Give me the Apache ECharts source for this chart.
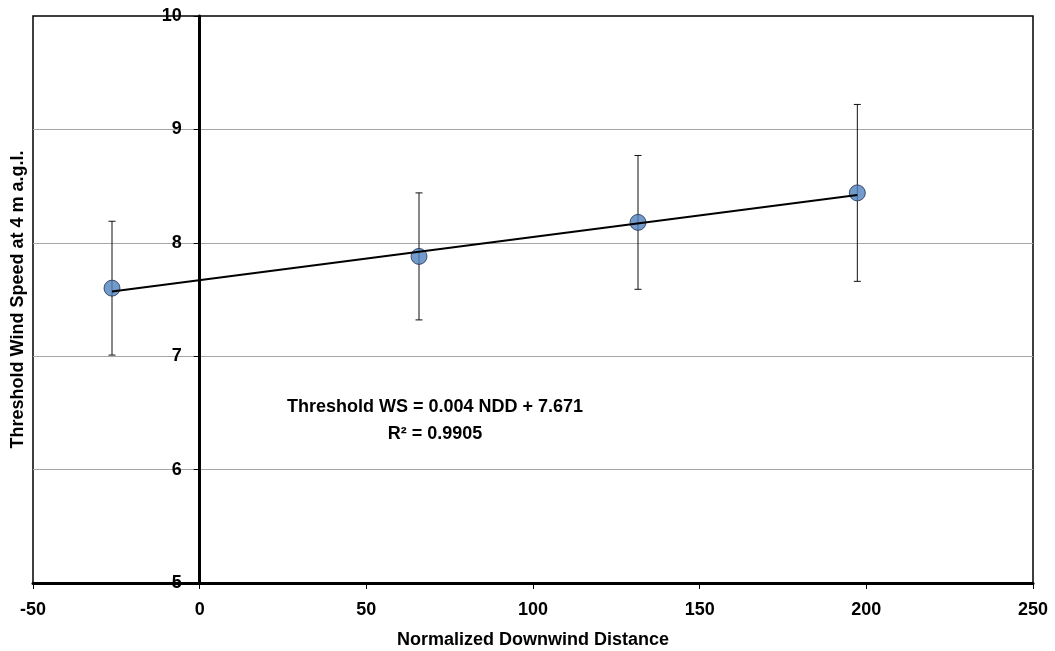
<!DOCTYPE html>
<html>
<head>
<meta charset="utf-8">
<title>Threshold Wind Speed vs Normalized Downwind Distance</title>
<script src="https://cdn.jsdelivr.net/npm/echarts@6/dist/echarts.min.js"></script>
<style>
  html, body { margin: 0; padding: 0; background: #fff; }
  #chart { width: 1055px; height: 651px; }
</style>
</head>
<body>
<div id="chart"></div>
<script>
// Normalized downwind distance of each station
const ndd = [-26.3, 65.8, 131.5, 197.3];
// Mean threshold wind speed at 4 m a.g.l.
const thresholdWs = [7.60, 7.88, 8.18, 8.44];
// Half-width of the error bar for each station
const errMargin = [0.59, 0.56, 0.59, 0.78];
// Linear fit through the station means
const trendSlope = 0.0038;
const trendIntercept = 7.671;
const trendR2 = 0.9905;

// Axis ticks
const xTicks = [-50, 0, 50, 100, 150, 200, 250];
const yTicks = [5, 6, 7, 8, 9, 10];

const FONT = '"Liberation Sans", Arial, sans-serif';
const W = 1055, H = 651;
const GRID = { left: 33, right: 22, top: 16, bottom: 68 };

const xMin = xTicks[0], xMax = xTicks[xTicks.length - 1];
// The vertical axis sits at NDD = 0, inside the plot area
const plotWidth = W - GRID.left - GRID.right;
const yAxisShift = -((0 - xMin) / (xMax - xMin)) * plotWidth;

const points = ndd.map((x, i) => [x, thresholdWs[i]]);
const errData = ndd.map((x, i) => [x, thresholdWs[i] - errMargin[i], thresholdWs[i] + errMargin[i]]);
const xFirst = ndd[0], xLast = ndd[ndd.length - 1];
const trendData = [
  [xFirst, trendSlope * xFirst + trendIntercept],
  [xLast, trendSlope * xLast + trendIntercept]
];

const chart = echarts.init(document.getElementById('chart'), null, { renderer: 'canvas' });

chart.setOption({
  animation: false,
  backgroundColor: '#ffffff',
  grid: {
    left: GRID.left, right: GRID.right, top: GRID.top, bottom: GRID.bottom,
    containLabel: false, outerBoundsMode: 'none',
    show: true, borderColor: '#000', borderWidth: 1.5, backgroundColor: 'transparent'
  },
  xAxis: {
    type: 'value',
    min: xMin, max: xMax, interval: 50,
    name: 'Normalized Downwind Distance',
    nameLocation: 'middle', nameGap: 48,
    nameTextStyle: { fontFamily: FONT, fontWeight: 'bold', fontSize: 18, color: '#000' },
    axisLine: { onZero: false, lineStyle: { color: '#000', width: 3 } },
    axisTick: { show: true, inside: false, length: 6, lineStyle: { color: '#000', width: 1 } },
    axisLabel: { fontFamily: FONT, fontWeight: 'bold', fontSize: 18, color: '#000', margin: 18 },
    splitLine: { show: false }
  },
  yAxis: {
    type: 'value',
    min: yTicks[0], max: yTicks[yTicks.length - 1], interval: 1,
    offset: yAxisShift,
    name: 'Threshold Wind Speed at 4 m a.g.l.',
    nameLocation: 'middle', nameGap: 173, nameRotate: 90,
    nameTextStyle: { fontFamily: FONT, fontWeight: 'bold', fontSize: 18, color: '#000' },
    axisLine: { show: true, onZero: false, lineStyle: { color: '#000', width: 3 } },
    axisTick: { show: true, inside: false, length: 6, lineStyle: { color: '#000', width: 1 } },
    axisLabel: { fontFamily: FONT, fontWeight: 'bold', fontSize: 18, color: '#000', margin: 18 },
    splitLine: {
      show: true, showMinLine: false, showMaxLine: false,
      lineStyle: { color: '#a6a6a6', width: 1 }
    }
  },
  graphic: [
    {
      type: 'text', x: 435, y: 407, z: 100,
      style: {
        text: 'Threshold WS = ' + trendSlope.toFixed(3) + ' NDD + ' + trendIntercept.toFixed(3),
        fontFamily: FONT, fontWeight: 'bold', fontSize: 18, fill: '#000',
        align: 'center', verticalAlign: 'middle'
      }
    },
    {
      type: 'text', x: 435, y: 434, z: 100,
      style: {
        text: 'R² = ' + trendR2.toFixed(4),
        fontFamily: FONT, fontWeight: 'bold', fontSize: 18, fill: '#000',
        align: 'center', verticalAlign: 'middle'
      }
    }
  ],
  series: [
    {
      name: 'Error',
      type: 'custom',
      z: 2,
      data: errData,
      encode: { x: 0, y: [1, 2] },
      renderItem: function (params, api) {
        const x = api.value(0);
        const lo = api.coord([x, api.value(1)]);
        const hi = api.coord([x, api.value(2)]);
        const cap = 3.5;
        const style = { stroke: '#111', lineWidth: 1 };
        return {
          type: 'group',
          children: [
            { type: 'line', shape: { x1: lo[0], y1: lo[1], x2: hi[0], y2: hi[1] }, style: style },
            { type: 'line', shape: { x1: hi[0] - cap, y1: hi[1], x2: hi[0] + cap, y2: hi[1] }, style: style },
            { type: 'line', shape: { x1: lo[0] - cap, y1: lo[1], x2: lo[0] + cap, y2: lo[1] }, style: style }
          ]
        };
      }
    },
    {
      name: 'Threshold WS',
      type: 'scatter',
      z: 3,
      data: points,
      symbol: 'circle',
      symbolSize: 16,
      itemStyle: { color: '#4f81bd', borderColor: '#1f2f4f', borderWidth: 1 }
    },
    {
      name: 'Linear fit',
      type: 'line',
      z: 4,
      data: trendData,
      showSymbol: false,
      symbol: 'none',
      lineStyle: { color: '#000', width: 2 }
    }
  ]
});
</script>
</body>
</html>
